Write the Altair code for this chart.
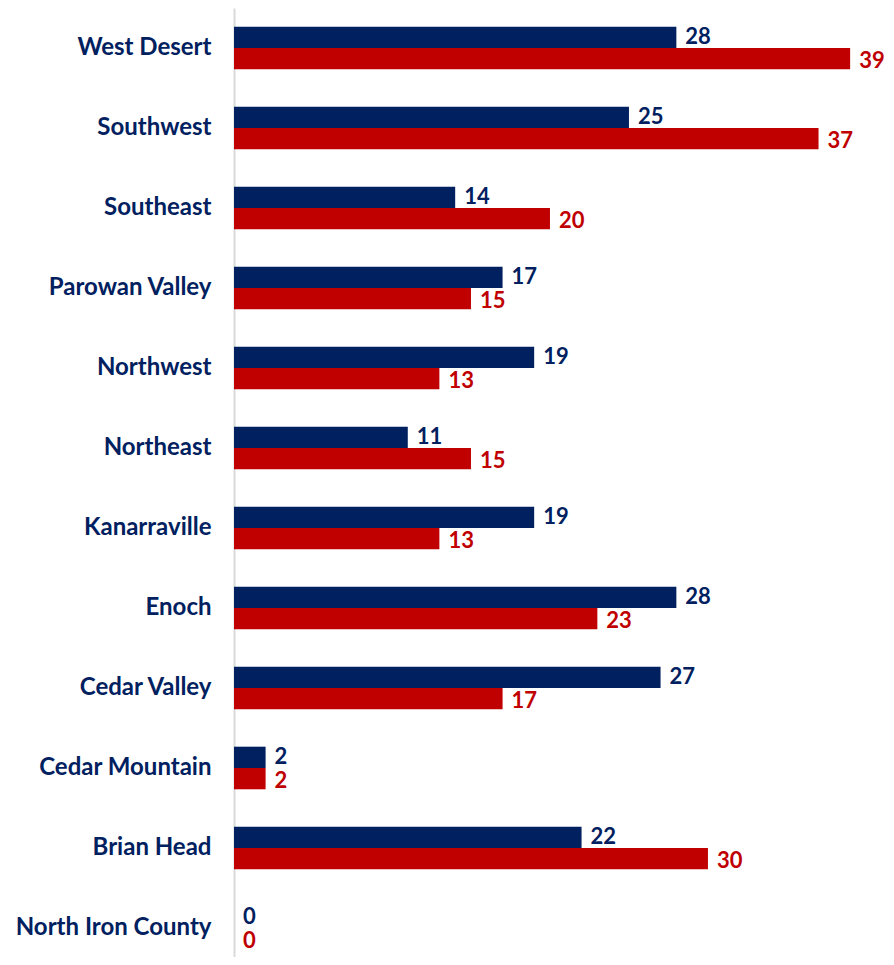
import altair as alt
import pandas as pd

regions = ["West Desert", "Southwest", "Southeast", "Parowan Valley", "Northwest",
           "Northeast", "Kanarraville", "Enoch", "Cedar Valley", "Cedar Mountain",
           "Brian Head", "North Iron County"]
series_names = ["Series A", "Series B"]
values_a = [28, 25, 14, 17, 19, 11, 19, 28, 27, 2, 22, 0]
values_b = [39, 37, 20, 15, 13, 15, 13, 23, 17, 2, 30, 0]
colors = ["#002060", "#C00000"]

rows = []
for r, a, b in zip(regions, values_a, values_b):
    rows.append({"region": r, "series": series_names[0], "value": a})
    rows.append({"region": r, "series": series_names[1], "value": b})
df = pd.DataFrame(rows)

FONT = "Lato"

y_enc = alt.Y("region:N", sort=regions,
              scale=alt.Scale(paddingInner=0.4675, paddingOuter=0.165, align=0.708),
              axis=alt.Axis(title=None, ticks=False, tickSize=0, labelFont=FONT,
                            labelFontWeight="bold", labelFontSize=24, labelColor="#002060",
                            labelPadding=23, labelLimit=0, domainColor="#d9d9d9",
                            domainWidth=2, grid=False))
yoff = alt.YOffset("series:N", sort=series_names,
                   scale=alt.Scale(paddingInner=0, paddingOuter=0))
x_enc = alt.X("value:Q", scale=alt.Scale(domain=[0, 41.27], nice=False, zero=True), axis=None)
col = alt.Color("series:N", scale=alt.Scale(domain=series_names, range=colors), legend=None)

base = alt.Chart(df)
bars = base.mark_bar().encode(x=x_enc, y=y_enc, yOffset=yoff, color=col)


def value_labels(series, dy):
    return base.transform_filter(alt.datum.series == series).mark_text(
        align="left", baseline="middle", dx=9, dy=dy, font=FONT,
        fontWeight="bold", fontSize=22).encode(
        x=x_enc, y=y_enc, yOffset=yoff, color=col, text="value:Q")


chart = (bars + value_labels(series_names[0], 0) + value_labels(series_names[1], 2)).properties(
    width=652, height=949,
    autosize=alt.AutoSizeParams(type="none"),
    padding={"left": 226, "top": 0, "right": 0, "bottom": 0},
).configure_view(stroke=None)

chart.save("out.html", embed_options={"renderer": "svg", "actions": False})
